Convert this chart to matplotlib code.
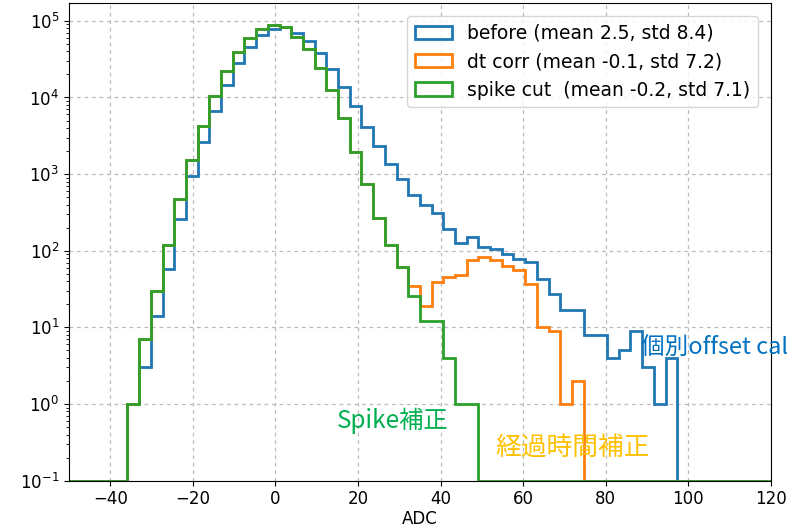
import numpy as np
import matplotlib
matplotlib.use("Agg")
import matplotlib.pyplot as plt

# 60 equal bins between -50 and 120 ADC
bin_edges = np.linspace(-50, 120, 61)

# counts per bin, starting at bin index 5 (-35.8 .. -33.0)
first_bin = 5
counts_before = [
    1, 3, 14, 58, 263, 955, 2600, 6670, 14700, 27900, 45900, 65300, 78200,
    82000, 68700, 54600, 38400, 23500, 13700, 7750, 4160, 2330, 1360, 870,
    535, 396, 309, 195, 128, 150, 111, 106, 90, 78, 72, 43, 27, 17, 17, 8, 8,
    4, 5, 9, 3, 1, 4,
]
counts_dtcorr = [
    1, 7, 30, 120, 475, 1545, 4250, 10560, 22100, 39200, 59700, 77500, 87300,
    83000, 62100, 42500, 24000, 12500, 5350, 1965, 745, 266, 120, 61,
    35, 19, 39, 45, 48, 76, 84, 75, 64, 56, 37, 10, 9, 1, 2,
]
counts_spike = [
    1, 7, 30, 120, 475, 1545, 4250, 10560, 22100, 39200, 59700, 77500, 87300,
    83000, 62100, 42500, 24000, 12500, 5350, 1965, 745, 266, 120, 61,
    26, 12, 12, 4, 1, 1,
]

labels = [
    "before (mean 2.5, std 8.4)",
    "dt corr (mean -0.1, std 7.2)",
    "spike cut  (mean -0.2, std 7.1)",
]
colors = ["tab:blue", "tab:orange", "tab:green"]

y_floor = 0.1


def full_counts(vals):
    out = np.zeros(len(bin_edges) - 1)
    out[first_bin:first_bin + len(vals)] = vals
    # empty bins sit on the bottom of the log axis
    return np.where(out > 0, out, y_floor)


fig = plt.figure(figsize=(7.93, 5.30), dpi=100)
ax = fig.add_axes([0.087, 0.093, 0.885, 0.901])

centers = 0.5 * (bin_edges[:-1] + bin_edges[1:])
for vals, lab, col in zip([counts_before, counts_dtcorr, counts_spike], labels, colors):
    ax.hist(centers, bins=bin_edges, weights=full_counts(vals), histtype="step",
            log=True, color=col, linewidth=2, label=lab)

ax.set_xlim(-50, 120)
ax.set_ylim(y_floor, 1.7e5)
ax.set_xlabel("ADC", fontsize=12, labelpad=1)
ax.tick_params(labelsize=12)
ax.grid(True, linestyle=(0, (3, 3)), color="#bbbbbb", linewidth=0.9)
ax.legend(loc="upper right", fontsize=13.5, handlelength=2.0,
          borderaxespad=0.7)

# slide annotations
jp = ["Noto Sans CJK JP", "DejaVu Sans"]
fig.text(337 / 793, 1 - 421 / 530, "Spike補正", color="#00b050", fontsize=17.5,
         family=jp, va="center", ha="left")
fig.text(495 / 793, 1 - 448 / 530, "経過時間補正", color="#ffc000", fontsize=18.5,
         family=jp, va="center", ha="left")
fig.text(641 / 793, 1 - 347 / 530, "個別offset cal", color="#0070c0", fontsize=17,
         family=jp, va="center", ha="left")

fig.savefig("out.png", dpi=100)
